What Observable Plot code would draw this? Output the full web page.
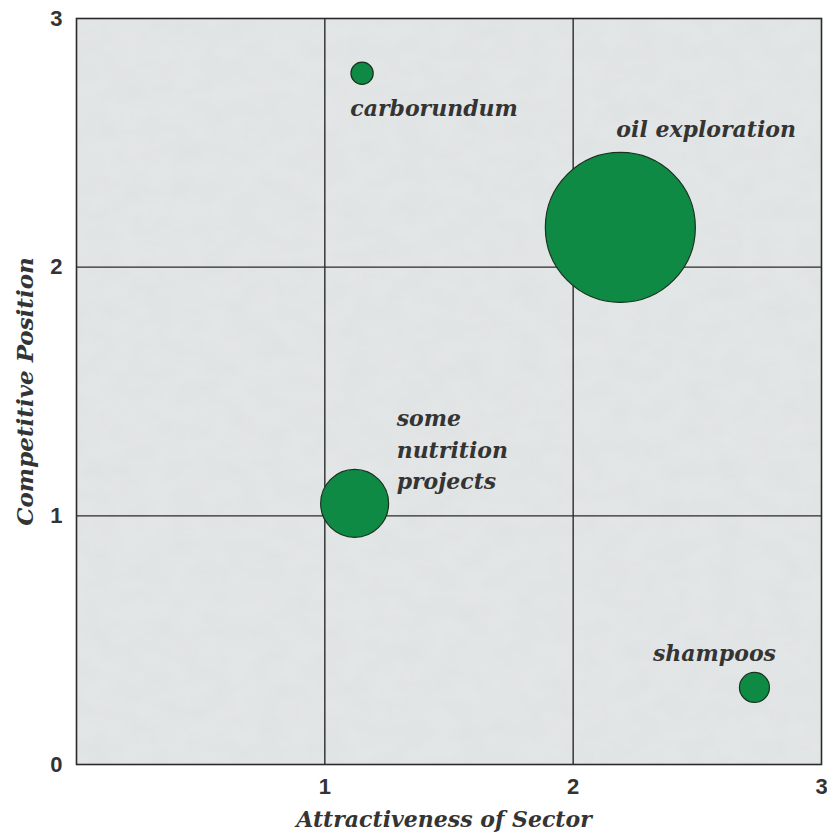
<!DOCTYPE html>
<html>
<head>
<meta charset="utf-8">
<script src="https://cdn.jsdelivr.net/npm/d3@7"></script>
<script src="https://cdn.jsdelivr.net/npm/@observablehq/plot@0.6"></script>
<style>
  html, body { margin: 0; padding: 0; background: #ffffff; }
  #chart svg { display: block; }
</style>
</head>
<body>
<div id="chart"></div>
<script>
// Portfolio matrix: sector attractiveness vs. competitive position,
// bubble area proportional to relative size of the activity.
const activities = ["carborundum", "oil exploration", "some nutrition projects", "shampoos"];
const attractiveness = [1.15, 2.19, 1.12, 2.73];
const position = [2.78, 2.16, 1.05, 0.31];
const size = [2.2, 100, 20.5, 4];

// Label text lines for each activity
const labelLines = [["carborundum"], ["oil exploration"], ["some", "nutrition", "projects"], ["shampoos"]];

const tickValues = [0, 1, 2, 3];
const gridValues = [1, 2];

const rows = activities.map((name, i) => ({
  name,
  x: attractiveness[i],
  y: position[i],
  size: size[i],
  label: labelLines[i].join("\n")
}));

const labelFont = "'DejaVu Serif', serif";
const tickFont = "'Liberation Sans', Arial, sans-serif";
const labelStyle = { fontFamily: labelFont, fontWeight: "bold", fontStyle: "italic", fontSize: 22, fill: "#343434" };

const chart = Plot.plot({
  width: 827,
  height: 839,
  marginLeft: 76,
  marginRight: 6,
  marginTop: 18,
  marginBottom: 75,
  style: { background: "#ffffff", overflow: "visible" },
  x: { domain: [0, 3], ticks: [], label: null },
  y: { domain: [0, 3], ticks: [], label: null },
  r: { type: "sqrt", domain: [0, 100], range: [0, 75] },
  marks: [
    Plot.frame({ fill: "#e3e6e6", className: "paper" }),
    Plot.ruleX(gridValues, { stroke: "#2a2a2a", strokeWidth: 1.4 }),
    Plot.ruleY(gridValues, { stroke: "#2a2a2a", strokeWidth: 1.4 }),
    Plot.frame({ stroke: "#2a2a2a", strokeWidth: 1.6 }),
    Plot.dot(rows, {
      x: "x", y: "y", r: "size",
      fill: "#0f8a44", stroke: "#17331f", strokeWidth: 1.2
    }),
    // labels placed relative to each bubble
    Plot.text(rows.filter(d => d.name === "carborundum"), {
      x: "x", y: "y", text: "label", dy: 36, dx: 72, textAnchor: "middle", ...labelStyle
    }),
    Plot.text(rows.filter(d => d.name === "oil exploration"), {
      x: "x", y: "y", text: "label", dy: -97, dx: -4, textAnchor: "start", ...labelStyle
    }),
    Plot.text(rows.filter(d => d.name === "some nutrition projects"), {
      x: "x", y: "y", text: "label", dy: -56, dx: 42, textAnchor: "start", lineHeight: 1.45, ...labelStyle
    }),
    Plot.text(rows.filter(d => d.name === "shampoos"), {
      x: "x", y: "y", text: "label", dy: -33, dx: -40, textAnchor: "middle", ...labelStyle
    }),
    // y tick labels
    Plot.text(tickValues, {
      x: 0, y: d => d, text: d => String(d), dx: -14, textAnchor: "end",
      fontFamily: tickFont, fontWeight: "bold", fontSize: 22, fill: "#333"
    }),
    // x tick labels
    Plot.text(tickValues.filter(d => d > 0), {
      x: d => d, y: 0, text: d => String(d), dy: 22, textAnchor: "middle",
      fontFamily: tickFont, fontWeight: "bold", fontSize: 22, fill: "#333"
    }),
    // axis titles
    Plot.text(["Attractiveness of Sector"], {
      x: 1.5, y: 0, text: d => d, dy: 55, dx: -5, textAnchor: "middle",
      fontFamily: labelFont, fontWeight: "bold", fontStyle: "italic", fontSize: 22, fill: "#343434"
    }),
    Plot.text(["Competitive Position"], {
      x: 0, y: 1.5, text: d => d, dx: -51, rotate: -90, textAnchor: "middle",
      fontFamily: labelFont, fontWeight: "bold", fontStyle: "italic", fontSize: 23, fill: "#343434"
    })
  ]
});

// Faint mottled paper texture on the plot background
const svg = d3.select(chart);
const defs = svg.insert("defs", ":first-child");
const f = defs.append("filter").attr("id", "paper-grain")
  .attr("x", 0).attr("y", 0).attr("width", 1).attr("height", 1);
f.append("feTurbulence").attr("type", "fractalNoise").attr("baseFrequency", "0.035 0.05")
  .attr("numOctaves", 3).attr("seed", 7).attr("result", "noise");
f.append("feColorMatrix").attr("in", "noise").attr("type", "matrix")
  .attr("values", "0 0 0 0 0.55  0 0 0 0 0.57  0 0 0 0 0.57  0 0 0 0.18 -0.04").attr("result", "tint");
f.append("feComposite").attr("in", "tint").attr("in2", "SourceGraphic").attr("operator", "atop");
svg.select("g.paper rect, rect.paper, .paper rect").attr("filter", "url(#paper-grain)");

document.getElementById("chart").appendChild(chart);
</script>
</body>
</html>
